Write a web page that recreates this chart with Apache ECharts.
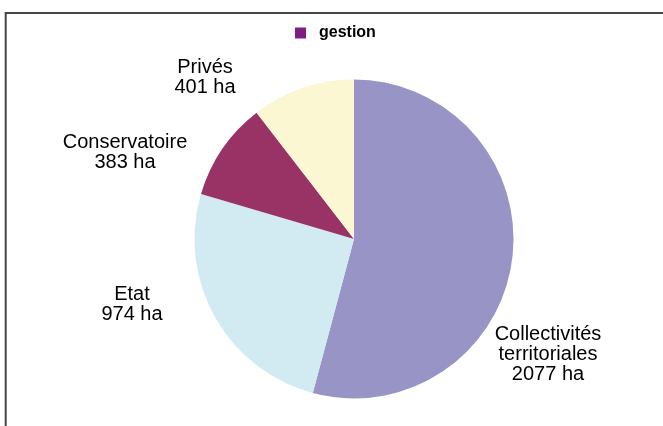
<!DOCTYPE html>
<html>
<head>
<meta charset="utf-8">
<script src="https://cdn.jsdelivr.net/npm/echarts@6/dist/echarts.min.js"></script>
<style>
html,body{margin:0;padding:0;background:#fff;}
#chart{width:663px;height:426px;}
</style>
</head>
<body>
<div id="chart"></div>
<script>
const categories = ['Collectivités\nterritoriales', 'Etat', 'Conservatoire', 'Privés'];
const values = [2077, 974, 383, 401];
const unit = 'ha';
const seriesName = 'gestion';

const sliceColors = ['#9894C6', '#D2EBF2', '#993366', '#FBF7D2'];
const legendColor = '#7E1E80';
// label centres (style / layout only)
const labelPos = [[548, 354], [132, 304], [125, 152], [205, 77]];

const chart = echarts.init(document.getElementById('chart'), null, {renderer: 'canvas'});
const pieData = categories.map((c, i) => ({
  name: c, value: values[i], itemStyle: {color: sliceColors[i]}
}));

chart.setOption({
  animation: false,
  backgroundColor: '#ffffff',
  graphic: [{
    type: 'rect', silent: true, z: 100,
    shape: {x: 5.7, y: 13, width: 700, height: 500},
    style: {fill: 'none', stroke: '#454545', lineWidth: 2}
  }],
  legend: {
    data: [seriesName],
    left: 295, top: 25, padding: 0,
    icon: 'rect', itemWidth: 11, itemHeight: 11,
    textStyle: {fontFamily: 'Liberation Sans, Arial, sans-serif', fontSize: 16, fontWeight: 'bold', color: '#000', padding: [0, 0, 0, 8]}
  },
  grid: {show: false, left: 0, top: 0, width: 1, height: 1},
  xAxis: {show: false, type: 'category', data: []},
  yAxis: {show: false, type: 'value'},
  series: [
    {type: 'bar', name: seriesName, data: [], itemStyle: {color: legendColor}},
    {
      type: 'pie',
      name: 'pie',
      center: [354, 239],
      radius: 159.5,
      startAngle: 90,
      clockwise: true,
      data: pieData,
      label: {
        show: true,
        position: 'outside',
        formatter: p => p.name + '\n' + p.value + ' ' + unit,
        fontFamily: 'Liberation Sans, Arial, sans-serif',
        fontSize: 20,
        lineHeight: 20,
        color: '#000',
        align: 'center',
        overflow: 'none',
        edgeDistance: 0
      },
      labelLine: {show: false},
      labelLayout: function (params) {
        const p = labelPos[params.dataIndex];
        return {x: p[0], y: p[1], align: 'center', verticalAlign: 'middle', hideOverlap: false};
      },
      emphasis: {disabled: true}
    }
  ]
});
</script>
</body>
</html>
